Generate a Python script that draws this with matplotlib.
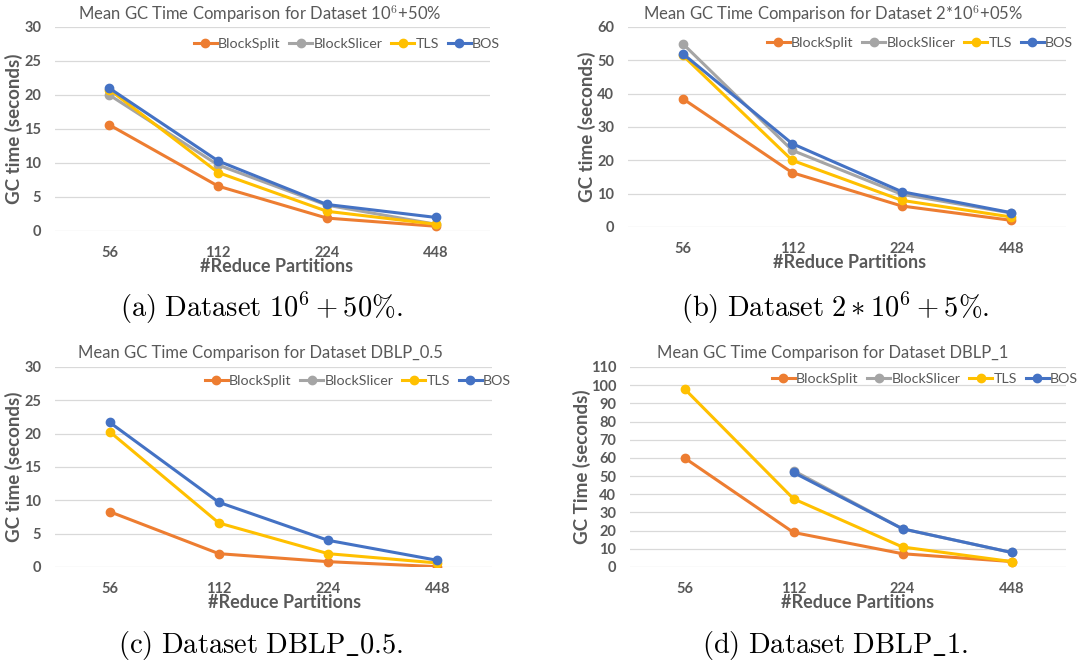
import matplotlib
matplotlib.use("Agg")
import matplotlib.pyplot as plt
import numpy as np

plt.rcParams["font.family"] = ["Lato", "DejaVu Sans"]
plt.rcParams["font.weight"] = "bold"
plt.rcParams["mathtext.fontset"] = "cm"

partitions = ["56", "112", "224", "448"]
series_names = ["BlockSplit", "BlockSlicer", "TLS", "BOS"]
colors = ["#ED7D31", "#A5A5A5", "#FFC000", "#4472C4"]
nan = np.nan

# (a) Dataset 10^6 + 50%
a_blocksplit = [15.6, 6.6, 1.9, 0.7]
a_blockslicer = [20.0, 9.7, 3.8, 1.0]
a_tls = [20.8, 8.6, 2.9, 1.0]
a_bos = [21.0, 10.3, 3.9, 2.0]

# (b) Dataset 2*10^6 + 5%
b_blocksplit = [38.5, 16.3, 6.3, 2.0]
b_blockslicer = [55.0, 23.0, 9.8, 4.2]
b_tls = [51.5, 20.0, 8.0, 3.0]
b_bos = [52.0, 25.0, 10.6, 4.3]

# (c) Dataset DBLP_0.5
c_blocksplit = [8.3, 2.0, 0.8, 0.05]
c_blockslicer = [nan, nan, nan, nan]
c_tls = [20.3, 6.6, 2.0, 0.6]
c_bos = [21.7, 9.7, 4.0, 1.0]

# (d) Dataset DBLP_1
d_blocksplit = [60.0, 19.0, 7.3, 3.0]
d_blockslicer = [nan, 53.0, 21.0, 8.0]
d_tls = [98.0, 37.5, 11.0, 3.0]
d_bos = [nan, 52.0, 21.0, 8.0]

W, H = 1090, 668
fig = plt.figure(figsize=(W / 100, H / 100), dpi=100)


def fx(px):
    return px / W


def fy(py):
    return 1 - py / H


panels = [
    dict(box=(55, 27, 490, 231), ymax=30, step=5,
         data=[a_blocksplit, a_blockslicer, a_tls, a_bos],
         title=r"Mean GC Time Comparison for Dataset 10$^{6}$+50%",
         title_xy=(260, 14), legend_xy=(347, 44), ylabel="GC time (seconds)", ylabel_x=14,
         xlabel_x=277,
         caption=r"$\mathrm{(a)\ Dataset\ }10^6 + 50\%.$", caption_xy=(261, 308)),
    dict(box=(628, 27, 1066, 227), ymax=60, step=10,
         data=[b_blocksplit, b_blockslicer, b_tls, b_bos],
         title=r"Mean GC Time Comparison for Dataset 2*10$^{6}$+05%",
         title_xy=(833, 14), legend_xy=(920, 43), ylabel="GC time (seconds)", ylabel_x=587,
         xlabel_x=850,
         caption=r"$\mathrm{(b)\ Dataset\ }2 * 10^6 + 5\%.$", caption_xy=(835, 308)),
    dict(box=(55, 367, 492, 567), ymax=30, step=5,
         data=[c_blocksplit, c_blockslicer, c_tls, c_bos],
         title="Mean GC Time Comparison for Dataset DBLP_0.5",
         title_xy=(260, 353), legend_xy=(358, 381), ylabel="GC time (seconds)", ylabel_x=14,
         xlabel_x=285,
         caption=r"$\mathrm{(c)\ Dataset\ DBLP\_0.5.}$", caption_xy=(261, 646)),
    dict(box=(630, 367, 1066, 567), ymax=110, step=10,
         data=[d_blocksplit, d_blockslicer, d_tls, d_bos],
         title="Mean GC Time Comparison for Dataset DBLP_1",
         title_xy=(833, 353), legend_xy=(925, 379), ylabel="GC Time (seconds)", ylabel_x=582,
         xlabel_x=858,
         caption=r"$\mathrm{(d)\ Dataset\ DBLP\_1.}$", caption_xy=(835, 646)),
]

grey = "#595959"
for p in panels:
    l, t, r, b = p["box"]
    ax = fig.add_axes([fx(l), fy(b), fx(r) - fx(l), fy(t) - fy(b)])
    x = np.arange(len(partitions))
    for name, vals, c in zip(series_names, p["data"], colors):
        ax.plot(x, vals, color=c, lw=2.2, marker="o", ms=6, label=name)
    ax.set_xlim(-0.5, len(partitions) - 0.5)
    ax.set_ylim(0, p["ymax"])
    ax.set_yticks(np.arange(0, p["ymax"] + 1, p["step"]))
    ax.set_xticks(x, labels=partitions)
    ax.grid(axis="y", color="#D9D9D9", lw=0.9)
    ax.set_axisbelow(True)
    for s in ax.spines.values():
        s.set_visible(False)
    ax.tick_params(length=0, labelsize=10.5, labelcolor=grey)
    ax.tick_params(axis="x", pad=11)
    ax.tick_params(axis="y", pad=10)
    fig.text(fx(p["xlabel_x"]), fy(b + 36), "#Reduce Partitions", fontsize=13,
             fontweight="bold", color=grey, ha="center", va="center")
    fig.text(fx(p["ylabel_x"]), fy((t + b) / 2), p["ylabel"], rotation=90, fontsize=13.5,
             fontweight="bold", color=grey, ha="center", va="center")
    fig.text(fx(p["title_xy"][0]), fy(p["title_xy"][1]), p["title"], fontsize=12,
             fontweight="normal", color=grey, ha="center", va="center")
    ax.legend(loc="center", bbox_to_anchor=(fx(p["legend_xy"][0]), fy(p["legend_xy"][1])),
              bbox_transform=fig.transFigure, ncol=4, frameon=False,
              prop={"size": 10.3, "weight": "normal"},
              handlelength=1.6, handletextpad=0.1, columnspacing=0.6, labelcolor=grey)
    fig.text(fx(p["caption_xy"][0]), fy(p["caption_xy"][1]), p["caption"],
             fontsize=20.5, fontweight="normal", ha="center", va="center")

fig.savefig("out.png", dpi=100)
